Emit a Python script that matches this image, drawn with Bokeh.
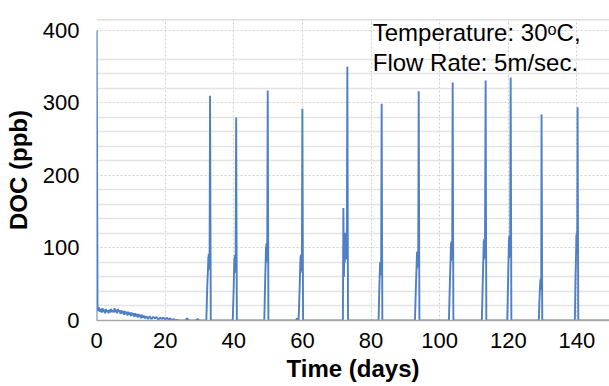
from bokeh.plotting import figure
from bokeh.models import Range1d, FixedTicker, Label, Span
from bokeh.embed import file_html
from bokeh.resources import INLINE

# Time (days) and DOC (ppb)
time = [
    0.0, 0.05, 0.3, 0.5, 0.75, 1.0, 1.25, 1.5, 1.75, 2.0, 2.25, 2.5, 2.75, 3.0, 3.25,
    3.5, 3.75, 4.0, 4.25, 4.5, 4.75, 5.0, 5.25, 5.5, 5.75, 6.0, 6.25, 6.5, 6.75,
    7.0, 7.25, 7.5, 7.75, 8.0, 8.25, 8.5, 8.75, 9.0, 9.25, 9.5, 9.75, 10.0, 10.25,
    10.5, 10.75, 11.0, 11.25, 11.5, 11.75, 12.0, 12.25, 12.5, 12.75, 13.0, 13.25,
    13.5, 13.75, 14.0, 14.5, 15.0, 15.5, 16.0, 16.5, 17.0, 17.5, 18.0, 18.5, 19.0,
    19.5, 20.0, 20.5, 21.0, 21.5, 22.0, 22.5, 23.0, 23.5, 24.0, 25.0, 26.0, 26.3,
    27.0, 29.0, 29.5, 30.0, 31.0,
    32.0, 32.3, 32.5, 32.6, 32.65, 32.7, 32.75, 32.8, 32.85, 32.9, 32.95, 33.1, 33.3,
    39.7, 39.95, 40.1, 40.2, 40.25, 40.3, 40.35, 40.4, 40.45, 40.5, 40.55, 40.7, 40.9,
    48.9, 49.15, 49.3, 49.4, 49.45, 49.5, 49.55, 49.6, 49.65, 49.7, 49.75, 49.9, 50.1,
    58.2, 58.35, 58.5,
    58.9, 59.2, 59.35, 59.45, 59.5, 59.55, 59.6, 59.65, 59.7, 59.75, 59.85, 60.0, 60.2,
    71.8, 71.95, 72.1, 72.25, 72.35, 72.45, 72.55, 72.65, 72.75, 72.85, 72.95, 73.1, 73.3,
    82.2, 82.4, 82.55, 82.65, 82.7, 82.75, 82.8, 82.85, 82.9, 82.95, 83.1, 83.3,
    92.8, 93.1, 93.3, 93.4, 93.45, 93.5, 93.55, 93.6, 93.65, 93.7, 93.75, 93.9, 94.1,
    102.7, 103.0, 103.2, 103.3, 103.35, 103.4, 103.45, 103.5, 103.55, 103.6, 103.65, 103.8, 104.0,
    112.3, 112.6, 112.75, 112.85, 112.9, 112.95, 113.0, 113.05, 113.1, 113.15, 113.2, 113.4, 113.6,
    119.7, 119.95, 120.1, 120.2, 120.25, 120.3, 120.35, 120.4, 120.45, 120.5, 120.55, 120.7, 120.9,
    128.9, 129.1, 129.25, 129.35, 129.4, 129.45, 129.5, 129.55, 129.6, 129.7, 129.9,
    139.4, 139.6, 139.75, 139.85, 139.9, 139.95, 140.0, 140.05, 140.1, 140.2, 140.4,
    150.0,
]
doc = [
    0, 400, 19, 13, 18, 12, 16, 11, 17, 12, 15, 10, 16, 12, 14,
    10, 15, 11, 16, 12, 14, 11, 17, 12, 15, 10, 16, 12, 14,
    9, 14, 10, 13, 8, 13, 9, 12, 7, 12, 8, 11, 6, 11,
    7, 10, 5, 10, 6, 9, 4, 9, 5, 8, 3, 8,
    4, 7, 3, 6, 2, 6, 2, 5, 3, 5, 1, 4, 2,
    4, 1, 4, 1, 3, 0, 2, 0, 1, 0, 0, 0, 3,
    0, 0, 2, 0, 0,
    0, 50, 72, 88, 70, 92, 74, 90, 72, 88, 80, 310, 0,
    0, 40, 70, 86, 68, 90, 66, 88, 70, 86, 78, 280, 0,
    0, 55, 82, 102, 80, 106, 84, 104, 82, 100, 90, 317, 0,
    0, 3, 0,
    0, 45, 72, 88, 66, 91, 70, 88, 68, 86, 80, 292, 0,
    0, 155, 60, 98, 80, 121, 88, 118, 84, 115, 100, 350, 0,
    0, 40, 66, 80, 62, 81, 64, 78, 66, 72, 299, 0,
    0, 50, 78, 94, 72, 95, 74, 92, 76, 90, 82, 316, 0,
    0, 55, 86, 106, 82, 109, 86, 105, 84, 104, 92, 328, 0,
    0, 60, 88, 110, 84, 112, 86, 108, 88, 106, 95, 331, 0,
    0, 55, 90, 114, 86, 117, 88, 112, 90, 110, 98, 335, 0,
    0, 30, 46, 56, 42, 58, 44, 55, 48, 284, 0,
    0, 60, 90, 118, 92, 121, 96, 116, 104, 294, 0,
    0,
]

x_ticks = [0, 20, 40, 60, 80, 100, 120, 140]
y_ticks = [0, 100, 200, 300, 400]
y_minor = [20, 40, 60, 80, 120, 140, 160, 180, 220, 240, 260, 280, 320, 340, 360]

note_line1 = "Temperature: 30ᵒC,"
note_line2 = "Flow Rate: 5m/sec."

FONT = "Liberation Sans"

p = figure(width=609, height=386, x_range=Range1d(0, 149.5), y_range=Range1d(0, 415),
           output_backend="svg", toolbar_location=None,
           min_border_left=96, min_border_right=0, min_border_top=19, min_border_bottom=66)

p.line(time, doc, line_color="#4F7FC4", line_width=1.9)

p.outline_line_color = None
p.background_fill_color = "white"

p.xaxis.ticker = FixedTicker(ticks=x_ticks)
p.yaxis.ticker = FixedTicker(ticks=y_ticks, minor_ticks=y_minor)

for ax in (p.xaxis, p.yaxis):
    ax.major_tick_line_color = None
    ax.minor_tick_line_color = None
    ax.major_label_text_font = FONT
    ax.major_label_text_font_size = "22px"
    ax.major_label_text_color = "black"
    ax.axis_label_text_font = FONT
    ax.axis_label_text_font_size = "24px"
    ax.axis_label_text_font_style = "bold"
    ax.axis_label_text_color = "black"

p.xaxis.axis_label = "Time (days)"
p.yaxis.axis_label = "DOC (ppb)"
p.xaxis.axis_line_color = "#A8A8A8"
p.xaxis.axis_line_width = 1.5
p.yaxis.axis_line_color = None
p.xaxis.major_label_standoff = 6
p.yaxis.major_label_standoff = 11
p.xaxis.axis_label_standoff = 4
p.yaxis.axis_label_standoff = 8

p.xgrid.grid_line_color = "#CFCFCF"
p.xgrid.grid_line_dash = "2 2"
p.ygrid.grid_line_color = "#D0D0D0"
p.ygrid.grid_line_dash = "2 2"
p.ygrid.minor_grid_line_color = "#E4E4E4"
p.ygrid.minor_grid_line_width = 1.5

p.add_layout(Span(location=415, dimension="width", line_color="#BDBDBD", line_width=1.5))

p.add_layout(Label(x=80.5, y=397, text=note_line1, text_baseline="alphabetic",
                   text_font=FONT, text_font_size="24px", text_color="black"))
p.add_layout(Label(x=80.5, y=356, text=note_line2, text_baseline="alphabetic",
                   text_font=FONT, text_font_size="24px", text_color="black"))

open("out.html", "w").write(file_html(p, INLINE))
